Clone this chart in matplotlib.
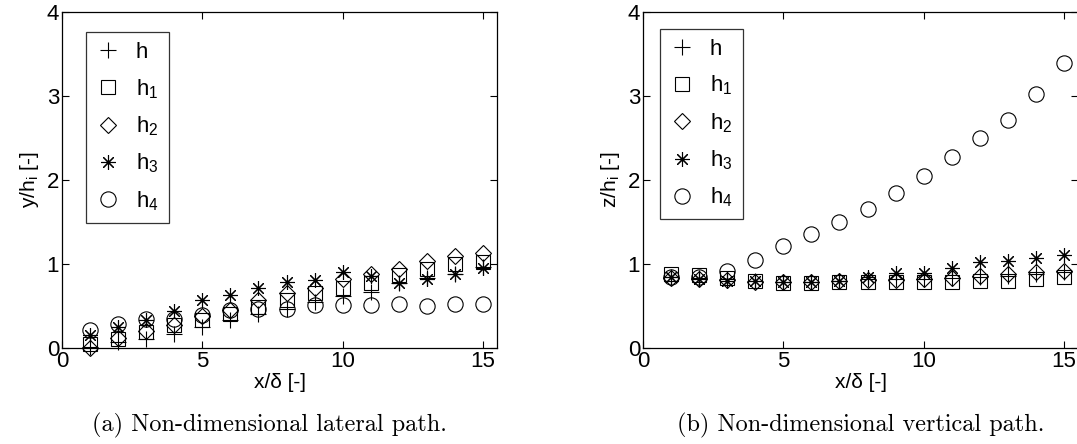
import matplotlib
matplotlib.use("Agg")
import matplotlib.pyplot as plt

# x/delta stations
x_pos = [1, 2, 3, 4, 5, 6, 7, 8, 9, 10, 11, 12, 13, 14, 15]

# (a) lateral path y/h_i
lat_h  = [0.01, 0.07, 0.11, 0.17, 0.25, 0.33, 0.41, 0.47, 0.55, 0.62, 0.67, 0.77, 0.83, 0.88, 0.96]
lat_h1 = [0.05, 0.11, 0.19, 0.27, 0.33, 0.41, 0.49, 0.57, 0.65, 0.72, 0.77, 0.87, 0.94, 1.00, 1.02]
lat_h2 = [0.00, 0.12, 0.20, 0.27, 0.38, 0.45, 0.57, 0.65, 0.72, 0.82, 0.88, 0.94, 1.03, 1.09, 1.13]
lat_h3 = [0.15, 0.25, 0.33, 0.44, 0.57, 0.63, 0.71, 0.78, 0.81, 0.91, 0.86, 0.77, 0.82, 0.88, 0.95]
lat_h4 = [0.21, 0.28, 0.34, 0.35, 0.39, 0.45, 0.46, 0.46, 0.51, 0.51, 0.51, 0.52, 0.50, 0.52, 0.52]

# (b) vertical path z/h_i
vert_h  = [0.85, 0.83, 0.82, 0.80, 0.78, 0.79, 0.80, 0.82, 0.82, 0.82, 0.83, 0.85, 0.86, 0.88, 0.90]
vert_h1 = [0.88, 0.87, 0.83, 0.80, 0.77, 0.77, 0.78, 0.78, 0.79, 0.79, 0.79, 0.80, 0.80, 0.82, 0.85]
vert_h2 = [0.83, 0.82, 0.81, 0.79, 0.78, 0.79, 0.80, 0.81, 0.81, 0.82, 0.83, 0.86, 0.88, 0.90, 0.92]
vert_h3 = [0.84, 0.82, 0.80, 0.80, 0.79, 0.79, 0.80, 0.85, 0.89, 0.89, 0.95, 1.02, 1.04, 1.07, 1.11]
vert_h4 = [0.85, 0.84, 0.92, 1.05, 1.21, 1.36, 1.50, 1.65, 1.84, 2.05, 2.27, 2.50, 2.71, 3.02, 3.39]

labels = ["h", "h$_1$", "h$_2$", "h$_3$", "h$_4$"]
markers = ["+", "s", "D", (8, 2, 0), "o"]
msizes = [11, 9.5, 7.8, 10.5, 11]

plt.rcParams["font.family"] = ["Liberation Sans", "DejaVu Sans"]
plt.rcParams["mathtext.default"] = "regular"

W, H = 1077, 444
fig = plt.figure(figsize=(W / 100, H / 100), dpi=100)


def panel(rect, series, ylabel, leg_anchor):
    ax = fig.add_axes([rect[0] / W, 1 - rect[3] / H, (rect[2] - rect[0]) / W, (rect[3] - rect[1]) / H])
    for vals, lab, mk, ms in zip(series, labels, markers, msizes):
        ax.plot(x_pos, vals, linestyle="none", marker=mk, markersize=ms,
                markerfacecolor="none", markeredgecolor="black", markeredgewidth=0.8,
                color="black", label=lab, clip_on=False)
    ax.set_xlim(0, 15.5)
    ax.set_ylim(0, 4)
    ax.set_xticks([0, 5, 10, 15])
    ax.set_yticks([0, 1, 2, 3, 4])
    ax.tick_params(direction="in", length=5, width=0.8, top=True, right=True,
                   labelsize=16, pad=2)
    for s in ax.spines.values():
        s.set_linewidth(0.9)
    ax.set_xlabel("x/δ [-]", fontsize=15, labelpad=1)
    ax.set_ylabel(ylabel, fontsize=15, labelpad=4)
    leg = ax.legend(loc="upper left", bbox_to_anchor=leg_anchor, numpoints=1,
                    fontsize=16, frameon=True, fancybox=False, borderaxespad=0,
                    handlelength=1.1, handletextpad=0.7, labelspacing=0.62,
                    borderpad=0.45)
    leg.get_frame().set_edgecolor("black")
    leg.get_frame().set_linewidth(0.9)
    return ax


panel((62, 12, 497, 348), [lat_h, lat_h1, lat_h2, lat_h3, lat_h4], "y/h$_i$ [-]", (0.055, 0.94))
panel((643, 12, 1078, 348), [vert_h, vert_h1, vert_h2, vert_h3, vert_h4], "z/h$_i$ [-]", (0.039, 0.95))

fig.text(269 / W, 1 - 425 / H, "(a) Non-dimensional lateral path.", family="cmr10",
         fontsize=17.5, ha="center", va="center")
fig.text(861 / W, 1 - 425 / H, "(b) Non-dimensional vertical path.", family="cmr10",
         fontsize=17.5, ha="center", va="center")

fig.savefig("out.png", dpi=100)
